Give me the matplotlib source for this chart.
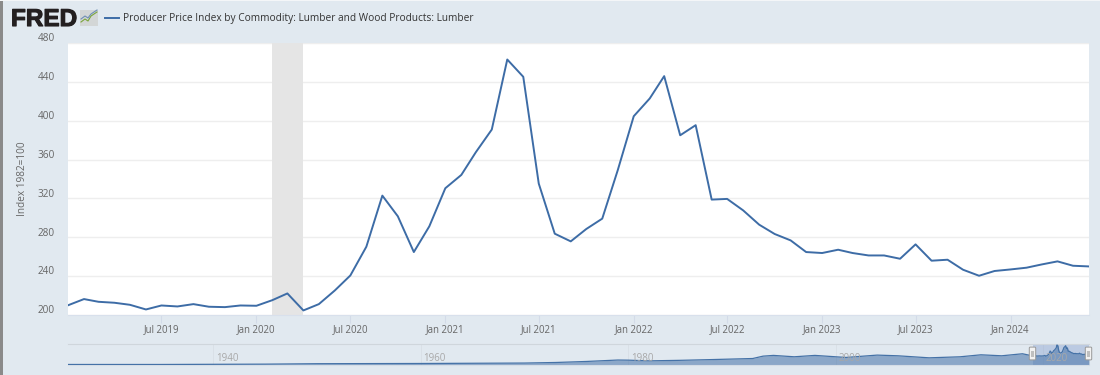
#!/usr/bin/env python3

import numpy as np
import pandas as pd
import matplotlib
matplotlib.use("Agg")
import matplotlib.pyplot as plt
import matplotlib.patheffects as pe
from matplotlib.patches import Rectangle, FancyBboxPatch

# monthly values, Jan 2019 - Jun 2024
months = pd.date_range("2019-01-01", "2024-06-01", freq="MS")
lumber = [210.0, 216.4, 213.6, 212.6, 210.5, 205.7, 209.8, 208.8, 211.2, 208.5, 208.1, 209.8,
          209.5, 215.3, 222.2, 204.7, 211.2, 225.3, 240.7, 270.3, 322.9, 301.6, 264.8, 291.3,
          330.5, 344.2, 367.5, 390.9, 463.0, 445.2, 335.3, 283.7, 275.8, 288.5, 299.2, 349.0,
          404.6, 422.9, 445.9, 385.0, 395.4, 318.8, 319.5, 307.7, 293.0, 283.4, 276.8, 264.8,
          263.8, 267.2, 263.8, 261.3, 261.3, 257.9, 272.7, 255.9, 256.9, 246.6, 240.4, 245.3,
          246.9, 248.7, 252.0, 255.2, 250.7, 250.0]

# long history for the navigator strip
nav_years = [1926, 1935, 1945, 1950, 1960, 1970, 1973, 1976, 1979, 1980, 1982, 1985, 1988, 1992,
             1993, 1994, 1996, 1998, 2000, 2001, 2004, 2006, 2009, 2012, 2014, 2016, 2018]
nav_values = [12, 12, 20, 30, 35, 45, 58, 82, 115, 112, 96, 108, 125, 150,
              205, 222, 190, 222, 190, 175, 229, 213, 166, 190, 236, 213, 260]

y_ticks = [200, 240, 280, 320, 360, 400, 440, 480]
x_ticks = ["2019-07", "2020-01", "2020-07", "2021-01", "2021-07", "2022-01",
           "2022-07", "2023-01", "2023-07", "2024-01"]
x_labels = ["Jul 2019", "Jan 2020", "Jul 2020", "Jan 2021", "Jul 2021", "Jan 2022",
            "Jul 2022", "Jan 2023", "Jul 2023", "Jan 2024"]
nav_labels = [1940, 1960, 1980, 2000, 2020]
recession = ("2020-02-01", "2020-04-01")
title = "Producer Price Index by Commodity: Lumber and Wood Products: Lumber"

BG = "#e1e9f0"
BLUE = "#3d6ca6"
W, H = 1100, 375


def px_axes(fig, left, top, right, bottom):
    return fig.add_axes([left / W, 1 - bottom / H, (right - left) / W, (bottom - top) / H])


def draw_decor(fig):
    # whole figure overlay in pixel coordinates, for logo, legend and axis title
    ax = fig.add_axes([0, 0, 1, 1], zorder=5)
    ax.set_xlim(0, W)
    ax.set_ylim(H, 0)
    ax.axis("off")
    ax.add_patch(Rectangle((0, 0), 2.5, H, color="#8a8a8a", lw=0))
    ax.add_patch(Rectangle((0, 0), W, 1.2, color="#f4f6f8", lw=0))

    logo = ax.text(11, 26, "FRED", family="Liberation Sans", weight="bold", fontsize=17.5,
                   color="#231f20", va="baseline", ha="left")
    logo.set_path_effects([pe.withStroke(linewidth=0.8, foreground="#231f20")])
    ax.add_patch(Rectangle((80, 10), 18, 16, color="#d3d6d6", lw=0))
    ax.plot([81, 85, 88, 91, 97], [22, 19, 21, 16, 12], color="#7aa53c", lw=0.8)
    ax.plot([81, 85, 88, 91, 97], [19, 16, 18, 14, 10], color="#6f8fb5", lw=0.8)

    ax.plot([105, 119], [18, 18], color=BLUE, lw=1.4)
    ax.text(123, 18, title, family="Open Sans", fontsize=7.25, color="#333333", va="center")
    ax.text(23, 178.5, "Index 1982=100", family="Open Sans", fontsize=7.2, color="#666666",
            rotation=90, va="center", ha="center")


def draw_main(fig):
    ax = px_axes(fig, 68, 43, 1089, 315)
    ax.plot(months, lumber, color=BLUE, lw=1.4, zorder=3)
    ax.axvspan(pd.Timestamp(recession[0]), pd.Timestamp(recession[1]), color="#e5e5e5", lw=0, zorder=1)
    ax.set_xlim(months[0], months[-1])
    ax.set_ylim(y_ticks[0], y_ticks[-1])
    ax.set_yticks(y_ticks)
    ax.set_yticklabels([])
    ax.set_xticks(pd.to_datetime(x_ticks))
    ax.set_xticklabels(x_labels, family="Open Sans", fontsize=6.9, color="#666666")
    ax.tick_params(axis="x", length=5.8, width=0.8, color="#d3dbe8", pad=1)
    ax.tick_params(axis="y", length=0)
    ax.grid(axis="y", color="#eeeeee", lw=1, zorder=0)
    for side in ["top", "left", "right"]:
        ax.spines[side].set_visible(False)
    ax.spines["bottom"].set_color("#d8e0ec")
    ax.set_axisbelow(True)

    # y labels sit a bit above their gridlines
    for val in y_ticks:
        ax.annotate(str(val), (0, val), xycoords=("axes fraction", "data"),
                    xytext=(-9.5, 3), textcoords="offset points", family="Open Sans",
                    fontsize=7.2, color="#666666", ha="right", va="center", annotation_clip=False)


def draw_navigator(fig):
    ax = px_axes(fig, 68, 344, 1089, 365)
    dates = list(pd.to_datetime([str(y) for y in nav_years])) + list(months)
    vals = list(nav_values) + list(lumber)
    ax.patch.set_alpha(0)
    ax.fill_between(dates, vals, 0, color="#4572a7", alpha=0.55, lw=0, zorder=2)
    ax.plot(dates, vals, color="#4572a7", lw=0.9, zorder=3)
    ax.set_xlim(pd.Timestamp("1926-01-01"), months[-1])
    ax.set_ylim(0, 486)
    ax.axvspan(months[0], months[-1], color="#6685c2", alpha=0.3, lw=0, zorder=1)
    ax.set_xticks([])
    ax.set_yticks([])
    for side in ["left", "right"]:
        ax.spines[side].set_visible(False)
    ax.spines["top"].set_color("#cfd6dc")
    ax.spines["bottom"].set_color("#d5dde6")

    for year in nav_labels:
        when = pd.Timestamp(str(year))
        ax.axvline(when, color="#d8dfe6", lw=0.6, zorder=0)
        ax.annotate(str(year), (when, 0.3), xycoords=("data", "axes fraction"),
                    xytext=(2, 0), textcoords="offset points", family="Open Sans",
                    fontsize=7, color="#a8a8a8", ha="left", va="center", zorder=4)

    # slider handles
    over = px_axes(fig, 0, 0, W, H)
    over.set_xlim(0, W)
    over.set_ylim(H, 0)
    over.axis("off")
    over.patch.set_alpha(0)
    for cx in [1032.5, 1088.5]:
        over.add_patch(FancyBboxPatch((cx - 2.8, 347.5), 5.6, 12, boxstyle="round,pad=0.4,rounding_size=1",
                                      fc="#f2f2f2", ec="#999999", lw=0.7))
        over.add_patch(Rectangle((cx - 1.2, 350.5), 2.4, 6, fc="#bfbfbf", lw=0))


def main():
    fig = plt.figure(figsize=(W / 100, H / 100), dpi=100, facecolor=BG)
    draw_main(fig)
    draw_navigator(fig)
    draw_decor(fig)
    fig.savefig("out.png", dpi=100, facecolor=BG)


if __name__ == "__main__":
    main()
